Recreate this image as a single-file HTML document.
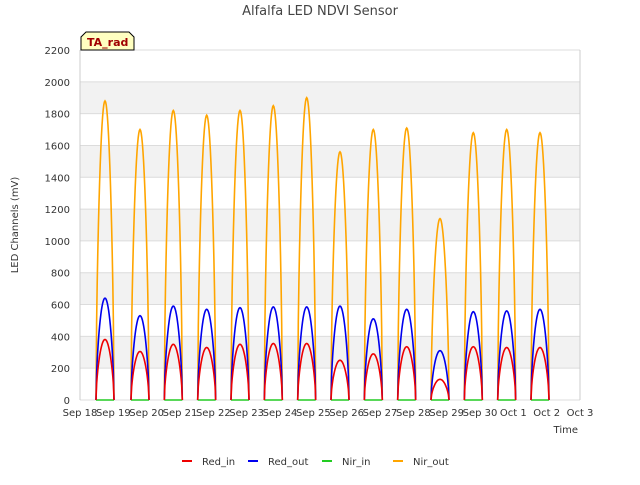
<!DOCTYPE html>
<html><head><meta charset="utf-8"><style>
body{margin:0;background:#fff;font-family:"Liberation Sans","DejaVu Sans",sans-serif}
svg text{font-family:"DejaVu Sans","Liberation Sans",sans-serif}
</style></head><body>
<svg id="c" width="640" height="480" xmlns="http://www.w3.org/2000/svg">
<text x="320" y="15" text-anchor="middle" font-size="13" fill="#444">Alfalfa LED NDVI Sensor</text>
<g id="grid"></g><g id="series"></g><g id="axes"></g>
<text transform="translate(18,225) rotate(-90)" text-anchor="middle" font-size="10" fill="#333">LED Channels (mV)</text>
<text x="578" y="433" text-anchor="end" font-size="10" fill="#333">Time</text>
<g><path d="M81,50 L81,37 L86,32 L129,32 L134,37 L134,50 Z" fill="#ffffc0" stroke="#000"/><text x="87" y="46" font-size="11" font-weight="bold" fill="#a00000">TA_rad</text></g>
<g id="legend"></g>
</svg>
<script>
const xTicks=["Sep 18","Sep 19","Sep 20","Sep 21","Sep 22","Sep 23","Sep 24","Sep 25","Sep 26","Sep 27","Sep 28","Sep 29","Sep 30","Oct 1","Oct 2","Oct 3"];
const yTicks=[0,200,400,600,800,1000,1200,1400,1600,1800,2000,2200];
const peakCenters=[0.75,1.8,2.8,3.8,4.8,5.8,6.8,7.8,8.8,9.8,10.8,11.8,12.8,13.8];
const nirOut=[1880,1700,1820,1790,1820,1850,1900,1560,1700,1710,1140,1680,1700,1680];
const redOut=[640,530,590,570,580,585,585,590,510,570,310,555,560,570];
const redIn=[380,305,350,330,350,355,355,250,290,335,130,335,330,330];
const nirIn=[0,0,0,0,0,0,0,0,0,0,0,0,0,0];
const X0=80,X1=580,Y0=400,Y1=50;
const xs=d=>X0+(X1-X0)*d/15, ys=v=>Y0-(Y0-Y1)*v/2200;
const NS="http://www.w3.org/2000/svg";
function mk(t,a,p){const e=document.createElementNS(NS,t);for(const k in a)e.setAttribute(k,a[k]);p.appendChild(e);return e;}
const grid=document.getElementById('grid'),axes=document.getElementById('axes');
for(let i=0;i<yTicks.length-1;i++){if(i%2==1){const r=mk('rect',{x:X0,y:ys(yTicks[i+1]),width:X1-X0,height:ys(yTicks[i])-ys(yTicks[i+1]),fill:'#f2f2f2'},grid);

}}
yTicks.forEach(v=>{const l=mk('line',{x1:X0,x2:X1,y1:ys(v),y2:ys(v),stroke:'#dcdcdc'},grid);


const t=mk('text',{x:X0-10,y:ys(v)+4,'text-anchor':'end','font-size':'10',fill:'#333'},axes);t.textContent=v;

});
mk('line',{x1:X0,x2:X0,y1:Y1,y2:Y0,stroke:'#ccc'},grid);
mk('line',{x1:X1,x2:X1,y1:Y1,y2:Y0,stroke:'#ccc'},grid);
xTicks.forEach((s,i)=>{const t=mk('text',{x:xs(i),y:Y0+16,'text-anchor':'middle','font-size':'10',fill:'#333'},axes);t.textContent=s;

});
function path(arr){let d='';const hw=0.27;
for(let i=0;i<arr.length;i++){const c=peakCenters[i];
for(let k=0;k<=30;k++){const t=k/30;const v=arr[i]*Math.pow(Math.sin(Math.PI*t),0.6);
d+=(k==0?'M':'L')+xs(c-hw+2*hw*t).toFixed(1)+','+ys(v).toFixed(1);}}
return d;}
const ser=document.getElementById('series');
[[nirIn,'#22cc22','nir-in-line'],[nirOut,'#ffa500','nir-out-line'],[redOut,'#0000ee','red-out-line'],[redIn,'#ee0000','red-in-line']].forEach(([a,c,n])=>{
const p=mk('path',{d:path(a),fill:'none',stroke:c,'stroke-width':'1.6'},ser);

});
const lg=document.getElementById('legend');
[['Red_in','#ee0000',182],['Red_out','#0000ee',248],['Nir_in','#22cc22',322],['Nir_out','#ffa500',393]].forEach(([n,c,x])=>{
const g=mk('g',{},lg);


mk('line',{x1:x,x2:x+10,y1:461,y2:461,stroke:c,'stroke-width':'2'},g);
const t=mk('text',{x:x+20,y:465,'font-size':'10',fill:'#333'},g);t.textContent=n;});
</script>
</body></html>
